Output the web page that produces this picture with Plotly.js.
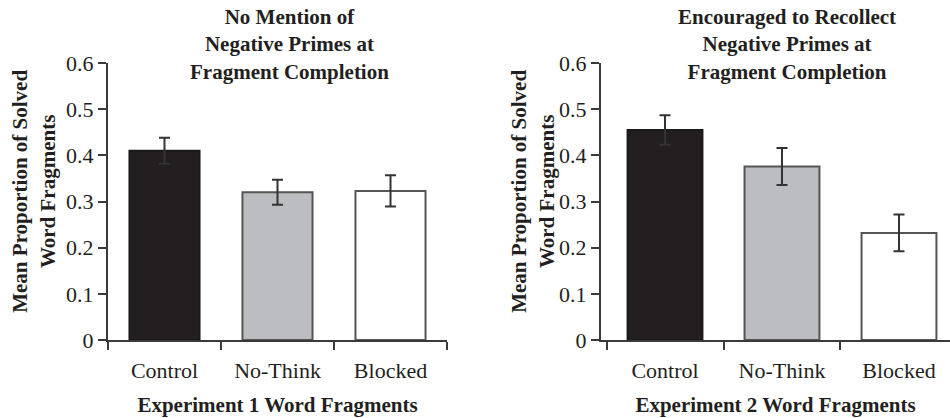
<!DOCTYPE html>
<html>
<head>
<meta charset="utf-8">
<script src="https://cdn.plot.ly/plotly-3.0.1.min.js"></script>
<style>html,body{margin:0;padding:0;background:#fff;}#chart{width:950px;height:418px;}</style>
</head>
<body>
<div id="chart"></div>
<script>
const categories = ["Control", "No-Think", "Blocked"];
const exp1Means = [0.410, 0.320, 0.323];
const exp1Errors = [0.028, 0.027, 0.034];
const exp2Means = [0.455, 0.376, 0.232];
const exp2Errors = [0.032, 0.040, 0.040];
const yTickVals = [0, 0.1, 0.2, 0.3, 0.4, 0.5, 0.6];
const yTickText = ["0", "0.1", "0.2", "0.3", "0.4", "0.5", "0.6"];
const panelTitles = ["No Mention of<br>Negative Primes at<br>Fragment Completion",
                     "Encouraged to Recollect<br>Negative Primes at<br>Fragment Completion"];
const xTitles = ["Experiment 1 Word Fragments", "Experiment 2 Word Fragments"];
const yTitle = "Mean Proportion of Solved<br>Word Fragments";

const ink = "#231f20";
const axisCol = "#3a3a3a";
const barFills = ["#231f20", "#bcbdc0", "#ffffff"];
const serif = "Liberation Serif, Times New Roman, serif";

function barTrace(means, errs, xa, ya, w) {
  return {
    type: "bar", x: categories, y: means, xaxis: xa, yaxis: ya, width: w,
    marker: {color: barFills, line: {color: ["#1a1a1a", "#555555", "#555555"], width: 2}},
    error_y: {type: "data", array: errs, visible: true, color: "#333333", thickness: 2, width: 5.5},
    hoverinfo: "skip", showlegend: false
  };
}

const xCommon = {
  type: "category", showline: true, linecolor: axisCol, linewidth: 2,
  ticks: "outside", ticklen: 8, tickwidth: 2, tickcolor: axisCol, tickson: "boundaries",
  showgrid: false, zeroline: false, ticklabelstandoff: 10,
  tickfont: {family: serif, size: 22, color: ink},
  title: {font: {family: serif, size: 21, color: ink}, standoff: 15}
};
const yCommon = {
  range: [0, 0.6], tickvals: yTickVals, ticktext: yTickText,
  showline: true, linecolor: axisCol, linewidth: 2,
  ticks: "outside", ticklen: 8, tickwidth: 2, tickcolor: axisCol,
  showgrid: false, zeroline: false,
  tickfont: {family: serif, size: 22, color: ink}
};

const layout = {
  width: 950, height: 418,
  margin: {l: 0, r: 0, t: 62.5, b: 78, pad: 0},
  paper_bgcolor: "#ffffff", plot_bgcolor: "#ffffff",
  font: {family: serif, color: ink},
  xaxis: Object.assign({}, xCommon, {domain: [108/950, 447/950], range: [-0.5, 2.5], anchor: "y",
    title: Object.assign({}, xCommon.title, {text: "<b>" + xTitles[0] + "</b>"})}),
  yaxis: Object.assign({}, yCommon, {domain: [0, 1], anchor: "x"}),
  xaxis2: Object.assign({}, xCommon, {domain: [601/950, 1], range: [-0.547, 2.436], anchor: "y2",
    title: Object.assign({}, xCommon.title, {text: "<b>" + xTitles[1] + "</b>"})}),
  yaxis2: Object.assign({}, yCommon, {domain: [0, 1], anchor: "x2"}),
  annotations: [
    {text: "<b>" + panelTitles[0] + "</b>", xref: "paper", yref: "paper", x: 289/950, y: (340-43.5)/277.5,
     xanchor: "center", yanchor: "middle", showarrow: false, font: {family: serif, size: 21, color: ink}},
    {text: "<b>" + panelTitles[1] + "</b>", xref: "paper", yref: "paper", x: 787/950, y: (340-43.5)/277.5,
     xanchor: "center", yanchor: "middle", showarrow: false, font: {family: serif, size: 21, color: ink}},
    {text: "<b>" + yTitle + "</b>", xref: "paper", yref: "paper", x: 33.5/950, y: (340-191)/277.5,
     xanchor: "center", yanchor: "middle", textangle: -90, showarrow: false,
     font: {family: serif, size: 21, color: ink}},
    {text: "<b>" + yTitle + "</b>", xref: "paper", yref: "paper", x: 532.5/950, y: (340-191)/277.5,
     xanchor: "center", yanchor: "middle", textangle: -90, showarrow: false,
     font: {family: serif, size: 21, color: ink}}
  ]
};

Plotly.newPlot("chart", [
  barTrace(exp1Means, exp1Errors, "x", "y", 0.62),
  barTrace(exp2Means, exp2Errors, "x2", "y2", 0.64)
], layout, {staticPlot: true, displayModeBar: false});
</script>
</body>
</html>
